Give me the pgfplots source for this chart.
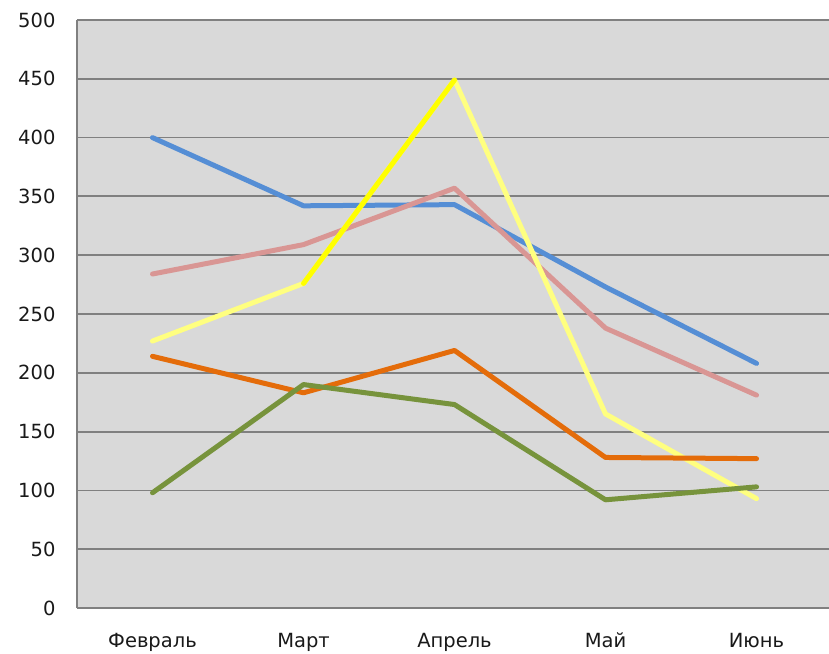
\documentclass[border=0pt]{standalone}
\usepackage{pgfplots}
\pgfplotsset{compat=1.18}
\usepackage{fontspec}
\setmainfont{DejaVu Sans}
\definecolor{bgc}{HTML}{D9D9D9}
\definecolor{gridc}{HTML}{808080}
\definecolor{cblue}{HTML}{558ED5}
\definecolor{cpink}{HTML}{D99694}
\definecolor{cyell}{HTML}{FFFF80}
\definecolor{cyellb}{HTML}{FFFF00}
\definecolor{corange}{HTML}{E46C0A}
\definecolor{cgreen}{HTML}{77933C}
\begin{document}
\begin{tikzpicture}[x=1pt,y=1pt]
\useasboundingbox (-77,-45) rectangle (752,608);
\begin{axis}[
  at={(0,0)}, anchor=south west,
  scale only axis, width=752pt, height=588pt,
  xmin=-0.5, xmax=4.48, ymin=0, ymax=500,
  xtick={0,1,2,3,4},
  xticklabels={Февраль,Март,Апрель,Май,Июнь},
  ytick={0,50,...,500},
  ymajorgrids, grid style={gridc, line width=1.8pt},
  axis background/.style={fill=bgc},
  axis line style={draw=none},
  axis x line*=bottom, axis y line*=left,
  major tick length=0pt,
  tick label style={font=\fontsize{19.5}{22}\selectfont, text=black!90},
  yticklabel style={xshift=-18pt},
  xticklabel style={yshift=-21pt, text height=15pt, text depth=4pt},
  /pgf/number format/assume math mode=true,
  clip=false,
  every axis plot/.append style={line width=5pt, line join=round, line cap=round, mark=none},
]
\addplot[cblue] coordinates {(0,400) (1,342) (2,343) (3,273) (4,208)};
\addplot[cpink] coordinates {(0,284) (1,309) (2,357) (3,238) (4,181)};
\addplot[cyell] coordinates {(0,227) (1,276) (2,449) (3,165) (4,93)};
\addplot[corange] coordinates {(0,214) (1,183) (2,219) (3,128) (4,127)};
\addplot[cgreen] coordinates {(0,98) (1,190) (2,173) (3,92) (4,103)};
\addplot[cyellb] coordinates {(1,276) (2,449)};
\draw[gridc, line width=1.8pt] (axis cs:-0.5,0) -- (axis cs:-0.5,500);
\draw[gridc, line width=2.2pt] (axis cs:-0.5,0) -- (axis cs:4.5,0);
\end{axis}
\end{tikzpicture}
\end{document}
